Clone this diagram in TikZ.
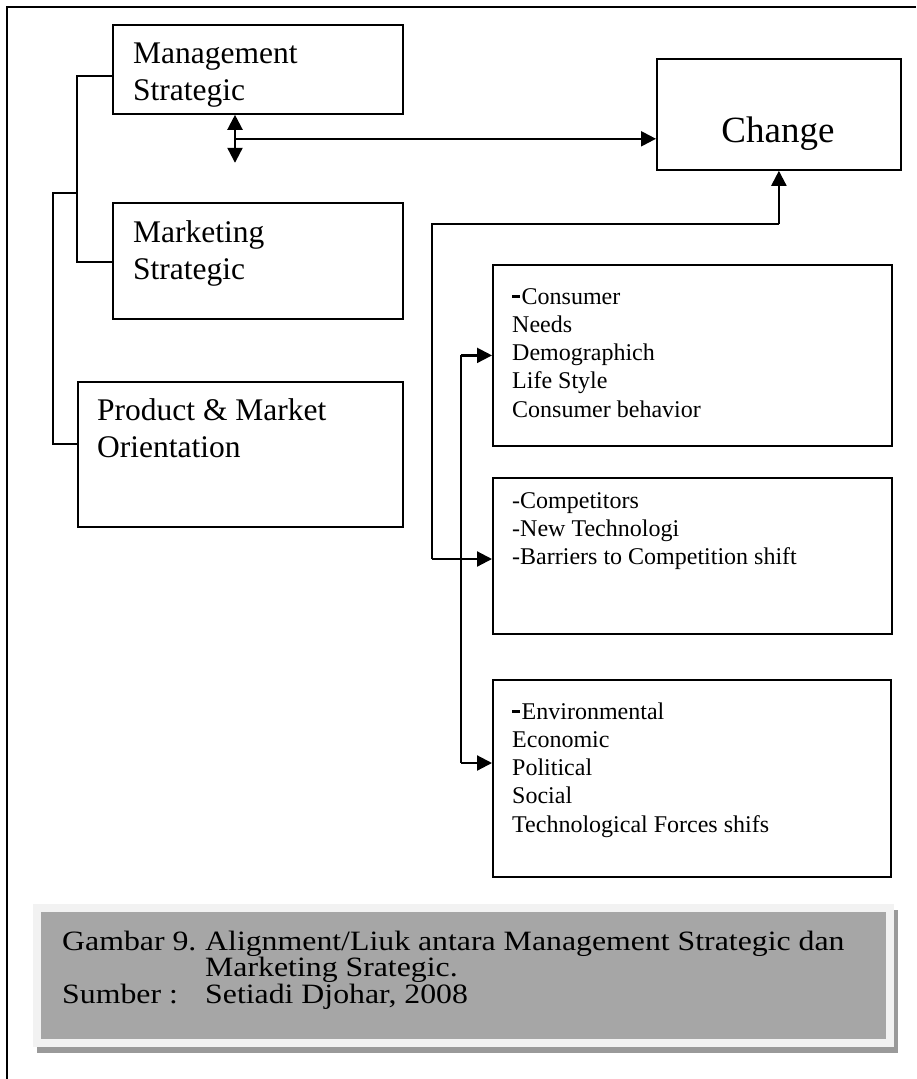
\documentclass[tikz,border=0pt]{standalone}
\usepackage{fontspec}
\usepackage{graphicx}
\setmainfont{Liberation Serif}
\usetikzlibrary{arrows.meta,calc}

\definecolor{capgray}{HTML}{A6A6A6}
\definecolor{capframe}{HTML}{F2F2F2}
\definecolor{capshadow}{HTML}{9A9A9A}

% heavy leading dash used in two of the lists
\newcommand{\bdash}{\rule[6.5pt]{8pt}{2.4pt}\hspace{1.5pt}}

\begin{document}
\begin{tikzpicture}[x=1pt,y=-1pt,
  box/.style={draw, line width=1.8pt, rectangle, inner sep=0pt, anchor=north west},
  txt/.style={anchor=base west, inner sep=0pt},
  bigtxt/.style={txt, font=\fontsize{31.5}{37}\selectfont},
  smalltxt/.style={txt, font=\fontsize{24}{28.3}\selectfont},
  link/.style={line width=1.8pt},
  arrowlink/.style={line width=2.2pt, -{Triangle[length=15pt,width=15pt]}},
  twoway/.style={line width=2.2pt, {Triangle[length=15pt,width=15pt]}-{Triangle[length=15pt,width=15pt]}}
]
\useasboundingbox (0,0) rectangle (916,1079);
\fill[white] (0,0) rectangle (916,1079);

% page frame (runs off the right and bottom edges)
\draw[line width=1.8pt] (7,1079) -- (7,7) -- (916,7);

% left column of boxes
\node[box, minimum width=290pt, minimum height=89pt]  (ms) at (112,24)  {};
\node[box, minimum width=290pt, minimum height=116pt] (mk) at (112,202) {};
\node[box, minimum width=325pt, minimum height=145pt] (po) at (77,381)  {};

\node[bigtxt] (msT) at (133,63)  {\begin{tabular}[t]{@{}l@{}}Management\\Strategic\end{tabular}};
\node[bigtxt] (mkT) at (133,242) {\begin{tabular}[t]{@{}l@{}}Marketing\\Strategic\end{tabular}};
\node[bigtxt] (poT) at (97,420)  {\begin{tabular}[t]{@{}l@{}}Product \& Market\\Orientation\end{tabular}};

% change box
\node[box, minimum width=244pt, minimum height=111pt] (ch) at (656,58) {};
\node[anchor=base, inner sep=0pt, font=\fontsize{37}{44}\selectfont] (chT) at (778,142) {Change};

% right column of boxes
\node[box, minimum width=399pt, minimum height=181pt] (b1) at (492,264) {};
\node[box, minimum width=399pt, minimum height=156pt] (b2) at (492,477) {};
\node[box, minimum width=398pt, minimum height=197pt] (b3) at (492,679) {};

\node[smalltxt] (b1T) at (512,304) {\begin{tabular}[t]{@{}l@{}}\bdash Consumer\\Needs\\Demographich\\Life Style\\Consumer behavior\end{tabular}};
\node[smalltxt] (b2T) at (512,508) {\begin{tabular}[t]{@{}l@{}}-Competitors\\-New Technologi\\-Barriers to Competition shift\end{tabular}};
\node[smalltxt] (b3T) at (512,719) {\begin{tabular}[t]{@{}l@{}}\bdash Environmental\\Economic\\Political\\Social\\Technological Forces shifs\end{tabular}};

% bracket joining the left boxes
\coordinate (msJ) at ($(ms.north west)+(0,52)$);
\coordinate (mkJ) at ($(mk.north west)+(0,60)$);
\coordinate (poJ) at ($(po.north west)+(0,63)$);
\coordinate (inner) at (77,0);
\coordinate (outer) at (53,193);
\draw[link] (msJ) -- (msJ -| inner) -- (mkJ -| inner) -- (mkJ);
\draw[link] (outer -| inner) -- (outer) -- (poJ -| outer) -- (poJ);

% two-way arrow under the management box and link to change
\coordinate (dTop) at ($(ms.south west)+(123,0)$);
\coordinate (dBot) at ($(dTop)+(0,48)$);
\coordinate (hJ)   at ($(dTop)+(0,24)$);
\draw[twoway] (dTop) -- (dBot);
\draw[arrowlink] (hJ) -- (hJ -| ch.west);

% feedback from the environment boxes up into change
\coordinate (rise) at ($(ch.south)+(0,53)$);
\coordinate (fStart) at (432,559);
\draw[link] (fStart) -- (fStart |- rise) -- (rise);
\draw[arrowlink] (rise) -- (ch.south);
\draw[arrowlink] (fStart) -- (fStart -| b2.west);

% distribution line to the three boxes
\coordinate (spine) at (461,0);
\coordinate (b3J) at ($(b3.north west)+(0,84)$);
\draw[link] (b1.west -| spine) -- (b3J -| spine);
\draw[arrowlink] (b1.west -| spine) -- (b1.west);
\draw[arrowlink] (b3J -| spine) -- (b3J);

% caption panel
\fill[capshadow] (37,910) rectangle (898,1053);
\fill[capframe] (33,904) rectangle (894,1047);
\fill[capgray] (41,912) rectangle (886,1039);
\node[txt, font=\fontsize{31.8}{28.4}\selectfont] (cap) at (62,950) {\scalebox{1}[0.88]{\begin{tabular}[t]{@{}l@{}}\makebox[143pt][l]{Gambar 9.}Alignment/Liuk antara Management Strategic dan\\\hspace*{143pt}Marketing Srategic.\\\makebox[143pt][l]{Sumber :}Setiadi Djohar, 2008\end{tabular}}};
\end{tikzpicture}
\end{document}
